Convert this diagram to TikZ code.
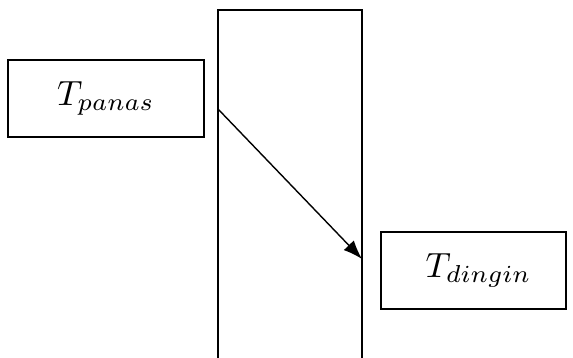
\documentclass[tikz,border=0pt]{standalone}
\usepackage{graphicx}
\usetikzlibrary{arrows.meta}
\begin{document}
\begin{tikzpicture}[x=1pt,y=-1pt,
  box/.style={draw,line width=1.4pt,minimum width=196pt,minimum height=77pt,inner sep=0pt},
  wall/.style={draw,line width=1.4pt}]
\useasboundingbox (0,0) rectangle (573,357);
\begin{scope}
\clip (0,0) rectangle (573,357);
\draw[wall] (218,10) rectangle (362,370);
\end{scope}
\coordinate (w1) at (218,109);
\coordinate (w2) at (362,259);
\node[box] (hot) at (106,98.5) {\scalebox{3.5}{$T_{panas}$}};
\node[box,minimum width=185pt] (cold) at (473.5,270.5) {\hspace*{10pt}\scalebox{3.5}{$T_{dingin}$}};
\draw[line width=1.4pt,-{Latex[length=19pt,width=14pt]}] (w1) -- (w2);
\end{tikzpicture}
\end{document}
